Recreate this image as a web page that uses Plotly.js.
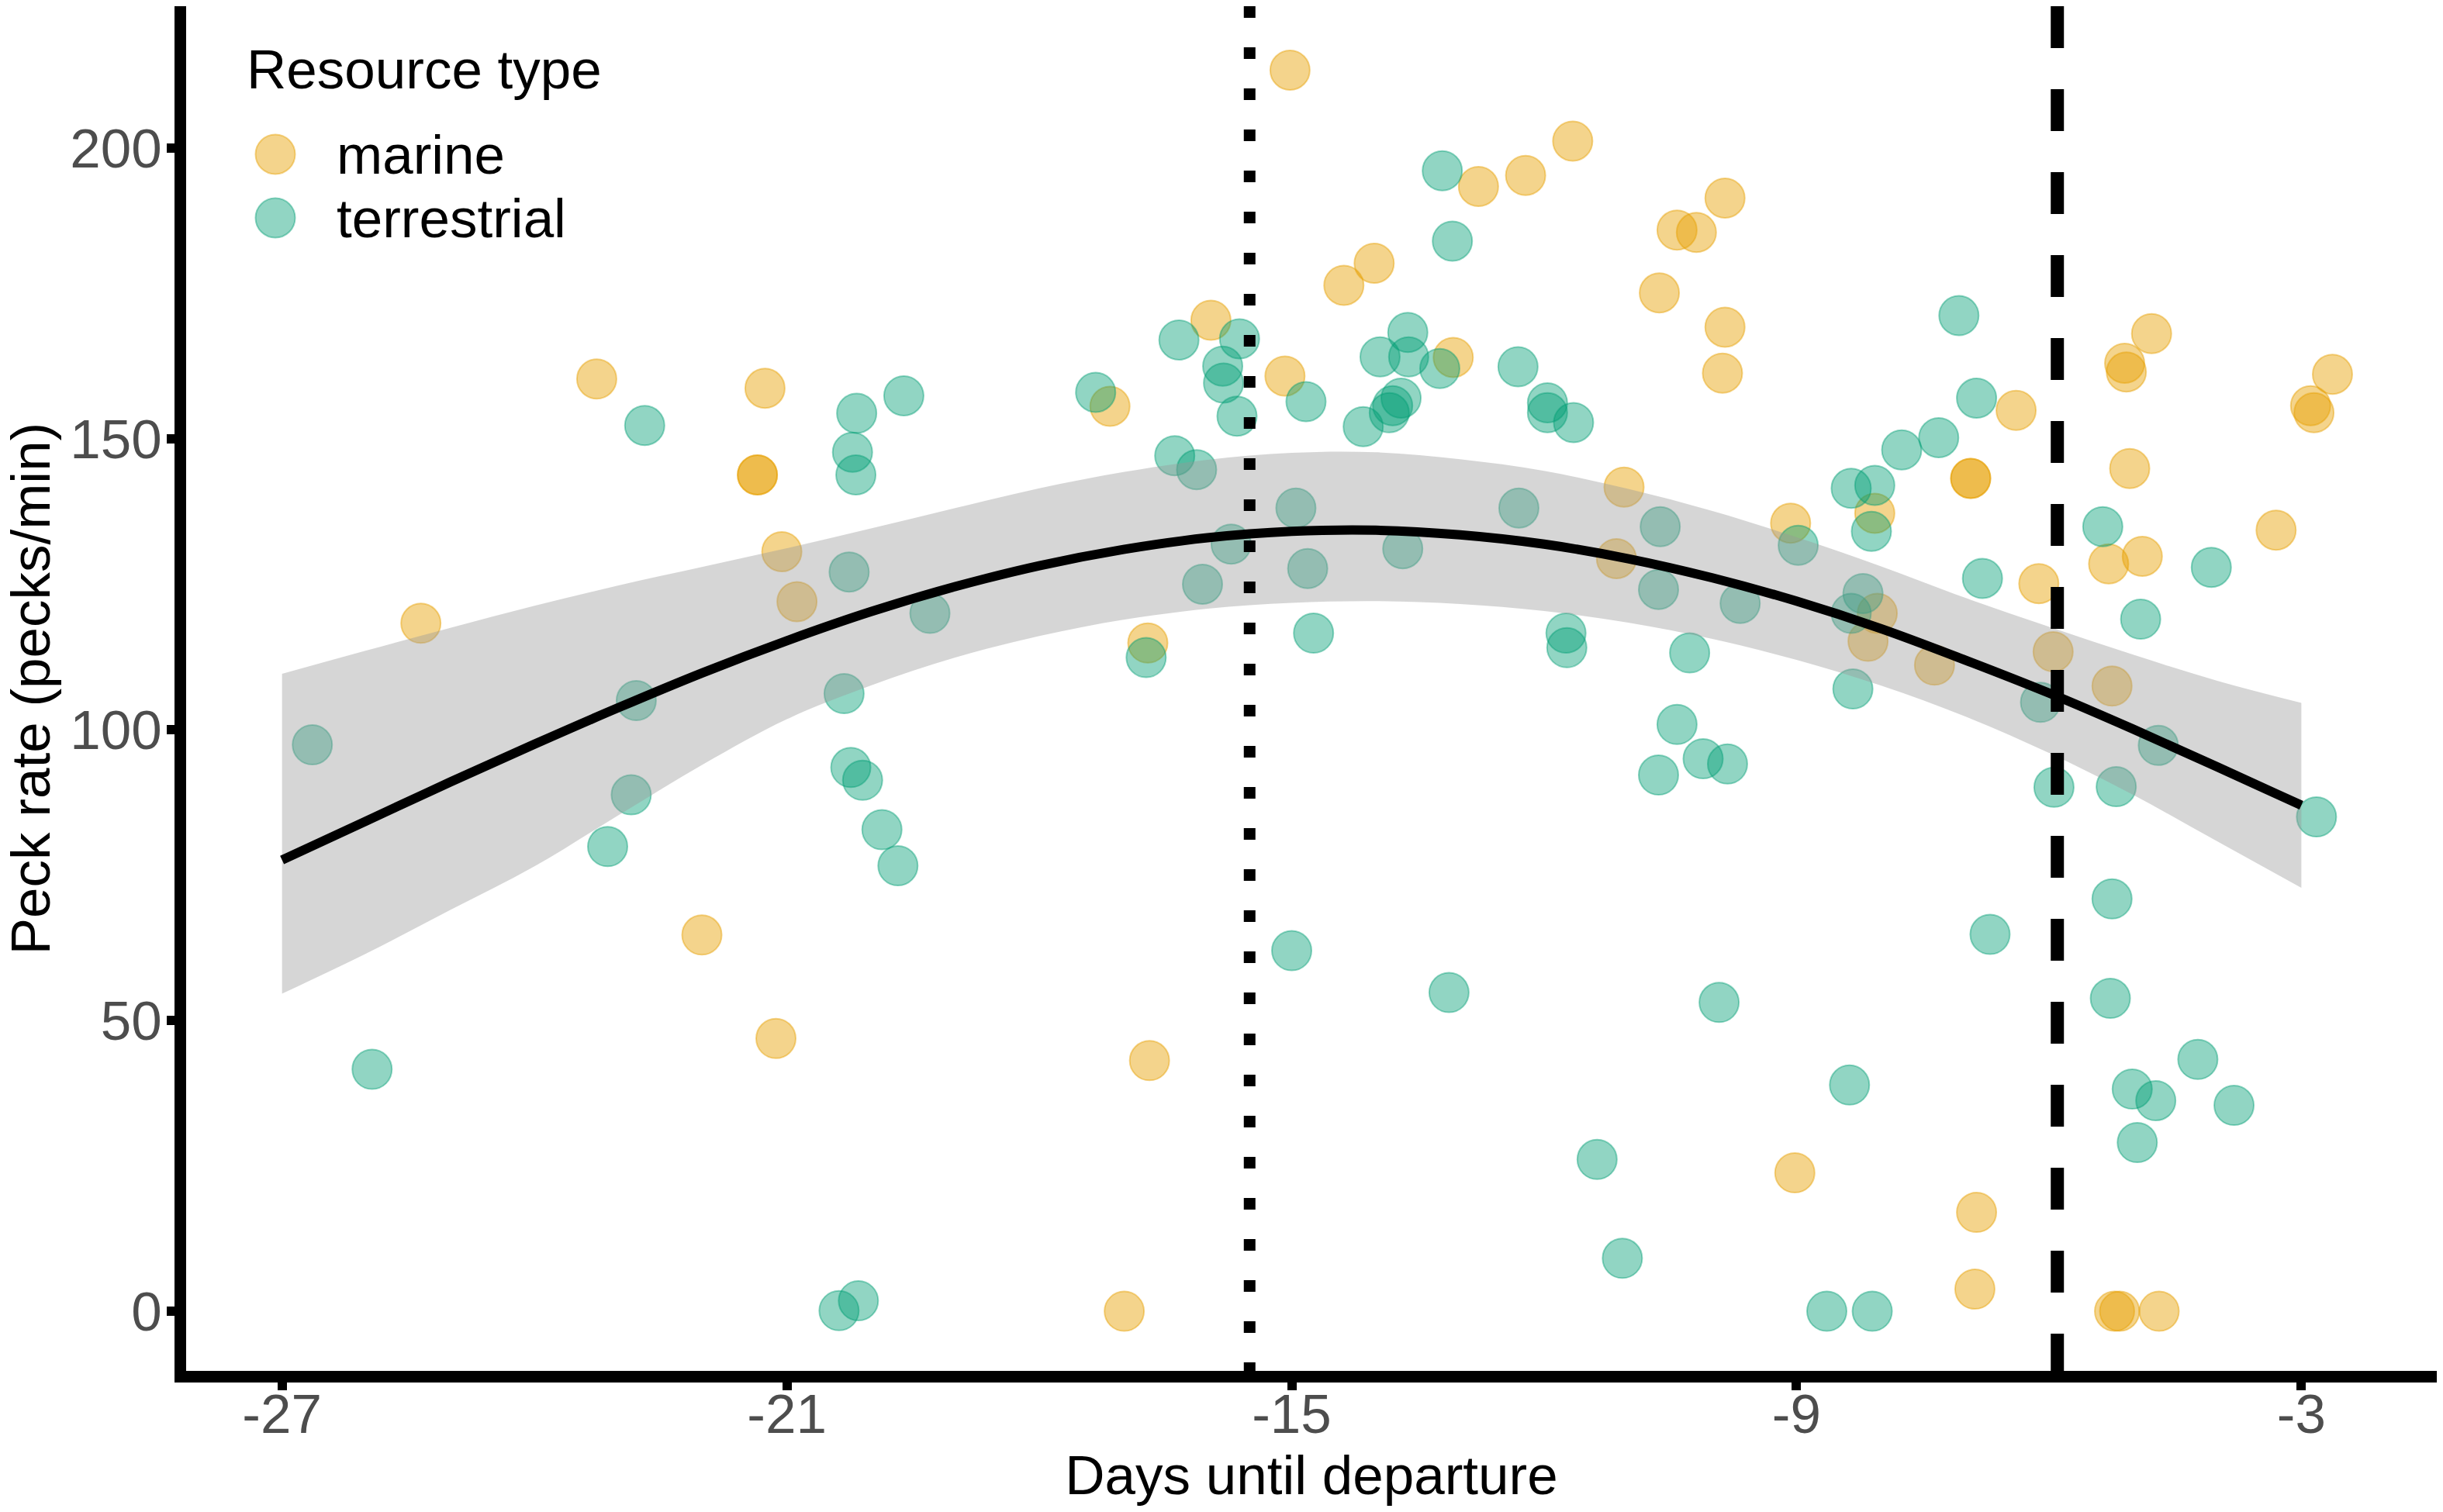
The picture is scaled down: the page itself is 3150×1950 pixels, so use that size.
<!DOCTYPE html>
<html>
<head>
<meta charset="utf-8">
<script src="https://cdn.plot.ly/plotly-3.0.1.min.js"></script>
<style>html,body{margin:0;padding:0;background:#fff;}</style>
</head>
<body>
<div id="chart" style="width:3150px;height:1950px;"></div>
<script>
// ---- data ----
const marineX = [-23.26,-21.26,-21.35,-21.35,-21.06,-20.88,-25.35,-22.01,-21.13,-17.16,-15.96,-15.08,-15.02,-14.38,-14.02,-13.08,-12.78,-12.22,-11.66,-10.42,-10.19,-9.85,-10.63,-9.85,-9.88,-11.05,-11.14,-16.71,-16.69,-16.99,-9.07,-8.07,-8.04,-8.15,-7.36,-6.93,-6.93,-6.39,-6.12,-5.95,-5.29,-4.89,-5.25,-5.04,-4.78,-5.10,-5.08,-3.30,-2.63,-2.89,-2.85,-9.02,-6.86,-6.88,-5.22,-5.16,-4.69];
const marineY = [160.3,158.7,143.8,143.8,130.6,122.0,118.3,64.7,46.9,155.6,170.4,160.8,213.4,176.4,180.2,164.0,193.4,195.3,201.2,185.9,185.5,191.4,175.1,169.2,161.3,141.7,129.4,114.9,43.1,0,135.5,137.2,120.0,115.2,111.1,143.2,143.2,154.9,125.1,113.4,128.5,129.8,107.5,144.9,168.1,163.0,161.5,134.3,161.1,155.7,154.5,23.8,17.0,3.8,0,0,0];

const terrX = [-26.64,-25.93,-23.13,-22.85,-22.79,-22.69,-20.32,-20.26,-20.22,-20.18,-20.17,-19.61,-19.30,-20.24,-20.10,-19.87,-19.68,-20.38,-20.15,-17.33,-16.73,-16.39,-16.13,-16.34,-15.62,-15.82,-15.81,-15.65,-16.06,-15.72,-15.00,-14.95,-14.83,-14.81,-14.74,-14.15,-13.95,-13.62,-13.61,-13.24,-13.70,-13.80,-13.84,-13.68,-13.21,-13.09,-13.13,-12.31,-12.30,-11.96,-11.96,-11.65,-11.74,-11.73,-11.37,-11.07,-10.62,-10.64,-10.27,-10.42,-10.64,-10.11,-9.82,-9.92,-9.67,-8.98,-8.35,-8.07,-8.11,-8.21,-8.35,-8.33,-8.37,-8.64,-8.10,-7.75,-7.31,-7.07,-6.86,-6.79,-6.70,-6.10,-5.94,-5.36,-5.20,-4.91,-4.70,-4.07,-5.25,-5.27,-4.23,-5.01,-4.73,-3.80,-4.95,-2.82];
const terrY = [97.4,41.6,79.9,88.8,105.0,152.3,106.2,127.1,147.7,143.8,154.4,157.4,120.0,93.5,91.3,82.8,76.6,0.1,1.8,158.0,112.4,147.1,144.7,167.0,167.2,162.5,159.6,153.9,125.0,131.9,62.0,138.1,156.4,127.7,116.6,152.1,164.1,168.3,164.1,162.1,157.0,155.7,154.5,131.1,196.1,184.0,54.8,162.4,138.1,156.2,154.5,152.8,116.6,114.1,26.1,9.1,134.9,124.1,113.2,100.9,92.2,95.0,94.1,53.1,121.7,131.7,141.5,142.0,134.1,123.4,120.0,107.0,38.9,0,0,148.1,150.2,171.2,157.0,126.0,64.8,104.7,90.1,134.9,90.2,119.0,97.3,127.9,70.9,53.8,43.3,38.2,36.2,35.4,29.0,85.0];

// fitted curve and its confidence band
const fitX     = [-27,-26,-25,-24,-23,-22,-21,-20,-19,-18,-17,-16,-15,-14,-13,-12,-11,-10,-9,-8,-7,-6,-5,-4,-3];
const fitY     = [77.6,84.3,91.0,97.5,103.8,109.8,115.3,120.3,124.6,128.2,131.0,133.0,134.1,134.3,133.5,131.9,129.4,126.1,122.1,117.4,112.0,106.3,100.1,93.6,87.0];
const fitUpper = [109.6,113.6,117.5,121.3,124.8,128.0,131.2,134.6,138.1,141.5,144.3,146.4,147.6,147.7,146.5,144.5,141.4,137.6,133.1,128.1,122.7,117.7,112.9,108.4,104.6];
const fitLower = [54.6,61.5,69.0,76.5,85.3,94.0,101.8,107.6,112.4,116.1,118.9,120.8,121.8,122.1,121.6,120.4,118.4,115.6,112.0,107.6,102.3,96.0,88.8,80.8,72.8];

const vDotted = -15.5;
const vDashed = -5.9;

const xTicks = [-27,-21,-15,-9,-3];
const yTicks = [0,50,100,150,200];

const seriesNames = ['marine','terrestrial'];
const seriesColors = ['rgba(230,159,0,0.45)','rgba(0,158,115,0.43)'];
const legendTitle = 'Resource type';
const xTitle = 'Days until departure';
const yTitle = 'Peck rate (pecks/min)';

// ---- build ----
const FONT = 'Liberation Sans, Arial, sans-serif';
const MS = 51;

function pts(x, y, i) {
  return {
    type: 'scatter', mode: 'markers', x: x, y: y, name: seriesNames[i],
    showlegend: false, hoverinfo: 'x+y',
    marker: {size: MS, color: seriesColors[i], line: {width: 2, color: seriesColors[i]}}
  };
}

const traces = [
  pts(marineX, marineY, 0),
  pts(terrX, terrY, 1),
  {type: 'scatter', mode: 'lines', x: fitX, y: fitLower,
   line: {width: 0, color: 'rgba(0,0,0,0)', shape: 'spline'}, showlegend: false, hoverinfo: 'skip'},
  {type: 'scatter', mode: 'lines', x: fitX, y: fitUpper, fill: 'tonexty',
   fillcolor: 'rgba(153,153,153,0.4)', line: {width: 0, color: 'rgba(0,0,0,0)', shape: 'spline'},
   showlegend: false, hoverinfo: 'skip'},
  {type: 'scatter', mode: 'lines', x: fitX, y: fitY,
   line: {width: 12, color: '#000', shape: 'spline'}, showlegend: false, hoverinfo: 'skip'}
];

const W = 3150, H = 1950;
const mL = 240, mR = 8, mT = 8, mB = 182;
const pw = W - mL - mR, ph = H - mT - mB;
const px = v => (v - mL) / pw;
const py = v => (H - mB - v) / ph;

const shapes = [
  {type: 'line', xref: 'x', yref: 'paper', x0: vDotted, x1: vDotted, y0: 1, y1: 0,
   line: {color: '#000', width: 15, dash: '15px,38px'}},
  {type: 'line', xref: 'x', yref: 'paper', x0: vDashed, x1: vDashed, y0: 1, y1: 0,
   line: {color: '#000', width: 17, dash: '54px,53px'}}
];
const annotations = [
  {xref: 'paper', yref: 'paper', x: px(316), y: py(89), xanchor: 'left', yanchor: 'middle',
   text: legendTitle, showarrow: false, font: {family: FONT, size: 71, color: '#000'}}
];
seriesNames.forEach((n, i) => {
  const cy = py(i === 0 ? 199 : 281);
  shapes.push({type: 'circle', xref: 'paper', yref: 'paper', xsizemode: 'pixel', ysizemode: 'pixel',
    xanchor: px(355), yanchor: cy, x0: -MS/2, x1: MS/2, y0: -MS/2, y1: MS/2,
    fillcolor: seriesColors[i], line: {width: 2, color: seriesColors[i]}});
  annotations.push({xref: 'paper', yref: 'paper', x: px(432), y: cy, xanchor: 'left', yanchor: 'middle',
    text: n, showarrow: false, font: {family: FONT, size: 71, color: '#000'}});
});

const layout = {
  width: W, height: H,
  margin: {l: mL, r: mR, t: mT, b: mB, pad: 0},
  paper_bgcolor: '#fff', plot_bgcolor: '#fff',
  showlegend: false,
  font: {family: FONT, size: 71, color: '#000'},
  xaxis: {
    range: [-28.14, -1.39], tickvals: xTicks, ticktext: xTicks.map(String),
    showgrid: false, zeroline: false, showline: true, linecolor: '#000', linewidth: 15,
    ticks: 'outside', ticklen: 10, tickwidth: 12, tickcolor: '#000',
    ticklabelstandoff: -30,
    tickfont: {family: FONT, size: 71, color: '#4D4D4D'},
    title: {text: xTitle, font: {family: FONT, size: 71, color: '#000'}, standoff: 21}
  },
  yaxis: {
    range: [-10.25, 224.4], tickvals: yTicks, ticktext: yTicks.map(String),
    showgrid: false, zeroline: false, showline: true, linecolor: '#000', linewidth: 15,
    ticks: 'outside', ticklen: 10, tickwidth: 12, tickcolor: '#000',
    ticklabelstandoff: -8,
    tickfont: {family: FONT, size: 71, color: '#4D4D4D'},
    title: {text: yTitle, font: {family: FONT, size: 71, color: '#000'}, standoff: 18}
  },
  shapes: shapes,
  annotations: annotations
};

Plotly.newPlot('chart', traces, layout, {displayModeBar: false, staticPlot: true});
</script>
</body>
</html>
